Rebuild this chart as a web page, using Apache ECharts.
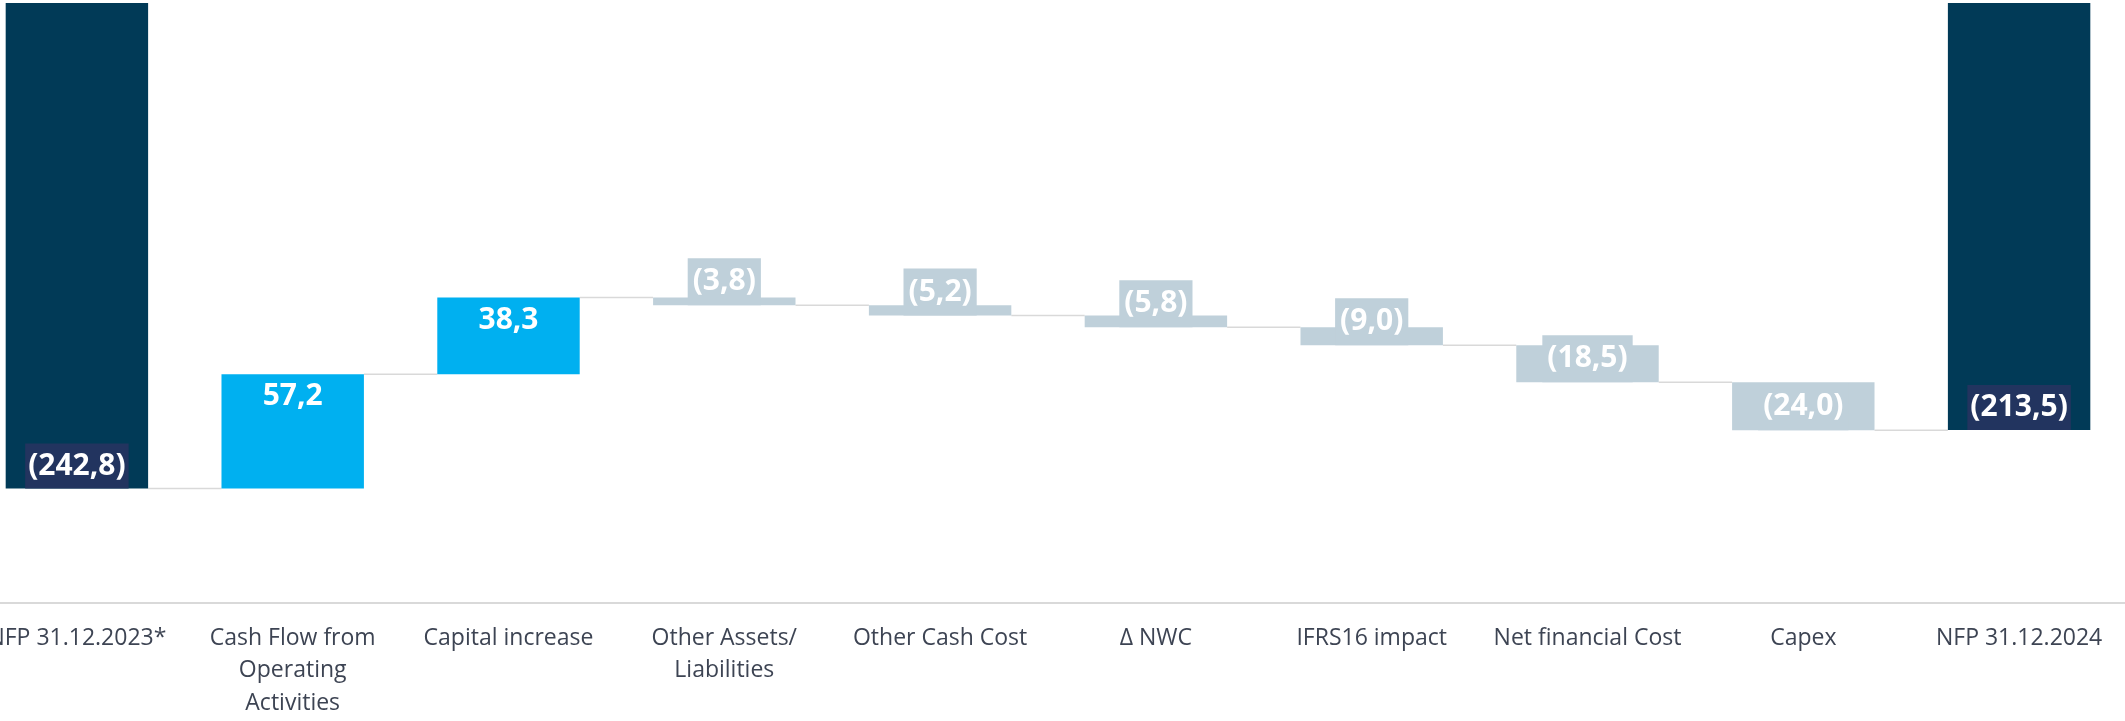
<!DOCTYPE html>
<html>
<head>
<meta charset="utf-8">
<title>NFP bridge</title>
<script src="https://cdn.jsdelivr.net/npm/echarts@6/dist/echarts.min.js"></script>
<style>
	html, body { margin: 0; padding: 0; background: #fff; overflow: hidden; }
	/* the first category label is cut by the left edge in the original slide */
	#chart { position: absolute; left: -31px; top: 0; width: 2158px; height: 721px; }
</style>
</head>
<body>
<div id="chart"></div>
<script>
const categories = [
	'NFP 31.12.2023*',
	'Cash Flow from\nOperating\nActivities',
	'Capital increase',
	'Other Assets/\nLiabilities',
	'Other Cash Cost',
	'\u0394 NWC',
	'IFRS16 impact',
	'Net financial Cost',
	'Capex',
	'NFP 31.12.2024'
];
// signed NFP figures in EUR m, negative = net debt / outflow
const values = [ -242.8, 57.2, 38.3, -3.8, -5.2, -5.8, -9.0, -18.5, -24.0, -213.5 ];
// 'total' bars start from zero, 'delta' bars float
const kinds = [ 'total', 'delta', 'delta', 'delta', 'delta', 'delta', 'delta', 'delta', 'delta', 'total' ];

const colors = {
	total: '#013a57',
	totalLabel: '#22345f',
	up: '#00b0f0',
	down: '#bfd0da',
	connector: '#d9d9d9',
	axisText: '#3d4453'
};

const bridge = {
	chart: null,
	barShare: 0.66,

	init: function () {
		this.chart = echarts.init( document.getElementById( 'chart' ) );
		const steps = this.buildSteps();
		this.chart.setOption( this.buildOption( steps ) );
	},

	// running net debt, plotted on an inverted axis so debt hangs from the top
	buildSteps: function () {
		const base = [];
		const size = [];
		const level = [];
		let debt = 0;
		kinds.forEach( ( kind, i ) => {
			if ( kind === 'total' ) {
				debt = -values[ i ];
				base.push( 0 );
				size.push( debt );
			} else {
				const next = debt - values[ i ];
				base.push( Math.min( debt, next ) );
				size.push( Math.abs( values[ i ] ) );
				debt = next;
			}
			level.push( debt );
		} );
		return { base: base, size: size, level: level };
	},

	formatValue: function ( v ) {
		const txt = Math.abs( v ).toFixed( 1 ).replace( '.', ',' );
		return v < 0 ? '(' + txt + ')' : txt;
	},

	barItem: function ( i, size ) {
		const kind = kinds[ i ];
		const up = values[ i ] > 0;
		let color = colors.total;
		let labelBg = colors.totalLabel;
		let position = 'insideBottom';
		let padding = [ 4, 3, 4, 3 ];
		if ( kind === 'delta' ) {
			color = up ? colors.up : colors.down;
			labelBg = up ? 'transparent' : colors.down;
			position = up ? 'insideTop' : 'insideBottom';
			padding = up ? padding : [ 5, 5, 5, 5 ];
		}
		return {
			value: size,
			itemStyle: { color: color },
			label: {
				show: true,
				position: position,
				distance: 0,
				formatter: this.formatValue( values[ i ] ),
				color: '#ffffff',
				fontFamily: 'Open Sans',
				fontWeight: 'bold',
				fontSize: 30,
				lineHeight: 37,
				padding: padding,
				backgroundColor: labelBg
			}
		};
	},

	buildOption: function ( steps ) {
		const share = this.barShare;
		const connectors = [];
		for ( let i = 0; i < categories.length - 1; i++ ) {
			connectors.push( [ i, steps.level[ i ] ] );
		}

		return {
			animation: false,
			grid: { left: 0, right: 0, top: 3, height: 600 },
			xAxis: {
				type: 'category',
				data: categories,
				axisLine: { onZero: false, lineStyle: { color: colors.connector, width: 2 } },
				axisTick: { show: false },
				axisLabel: {
					interval: 0,
					margin: 19,
					color: colors.axisText,
					fontFamily: 'Open Sans',
					fontSize: 23,
					lineHeight: 32.5
				}
			},
			yAxis: {
				type: 'value',
				inverse: true,
				min: 0,
				max: 300,
				show: false
			},
			series: [
				{
					type: 'bar',
					stack: 'bridge',
					barCategoryGap: ( ( 1 - share ) * 100 ) + '%',
					itemStyle: { color: 'transparent' },
					emphasis: { disabled: true },
					data: steps.base
				},
				{
					type: 'bar',
					stack: 'bridge',
					emphasis: { disabled: true },
					data: steps.size.map( ( s, i ) => this.barItem( i, s ) ),
					z: 3
				},
				{
					type: 'custom',
					silent: true,
					z: 1,
					data: connectors,
					renderItem: function ( params, api ) {
						const p = api.coord( [ api.value( 0 ), api.value( 1 ) ] );
						const band = api.size( [ 1, 0 ] )[ 0 ];
						const half = band * share / 2;
						return {
							type: 'line',
							shape: {
								x1: p[ 0 ] + half,
								y1: p[ 1 ],
								x2: p[ 0 ] + band - half,
								y2: p[ 1 ]
							},
							style: { stroke: colors.connector, lineWidth: 1.5 }
						};
					}
				}
			]
		};
	}
};

bridge.init();
</script>
</body>
</html>
